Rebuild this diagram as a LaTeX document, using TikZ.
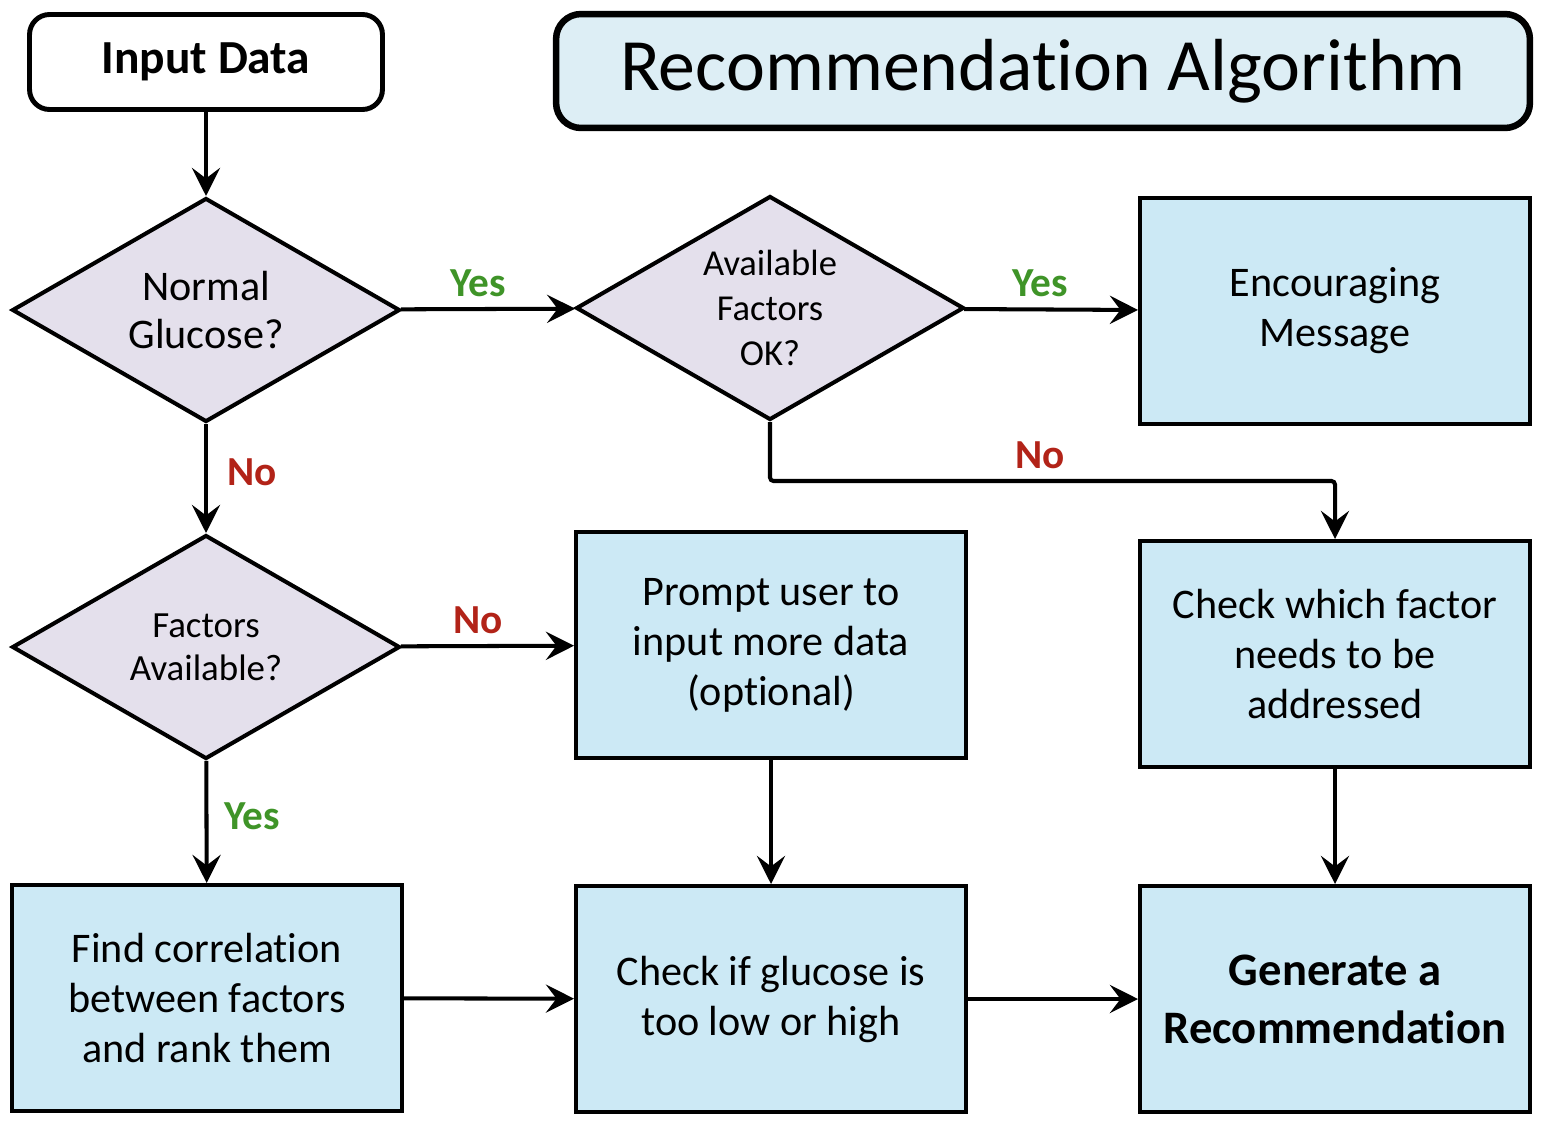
\documentclass[tikz,border=0pt]{standalone}
\usepackage{fontspec}
\setmainfont{Carlito}[Ligatures=NoCommon]
\usetikzlibrary{shapes.geometric, arrows.meta, calc}

\definecolor{boxblue}{HTML}{CCE9F5}
\definecolor{titleblue}{HTML}{DDEEF5}
\definecolor{decpurple}{HTML}{E4E0EC}
\definecolor{yesgreen}{HTML}{3F9428}
\definecolor{nored}{HTML}{B22318}

\tikzset{
	process/.style={draw, line width=2.3pt, fill=boxblue, minimum width=7.8cm, minimum height=4.52cm, align=center, inner sep=0pt, font=\fontsize{24}{28.5}\selectfont},
	decision/.style={draw, line width=2.3pt, fill=decpurple, diamond, aspect=1.73, minimum width=7.76cm, minimum height=4.48cm, align=center, inner sep=0pt},
	yeslbl/.style={text=yesgreen, font=\fontsize{23.5}{28}\selectfont\bfseries},
	nolbl/.style={text=nored, font=\fontsize{23.5}{28}\selectfont\bfseries},
	flow/.style={line width=2.3pt, -{Stealth[length=16pt, width=16pt, inset=6pt]}}
}

\begin{document}
\begin{tikzpicture}[x=0.02cm, y=-0.02cm]
		\useasboundingbox (0,0) rectangle (1550,1130);
		
		\node[draw, line width=2.8pt, rounded corners=0.4cm, minimum width=7.06cm, minimum height=1.9cm, font=\fontsize{27}{32}\selectfont\bfseries] (input) at (206,62) {Input Data};
		\node[draw, line width=3.7pt, fill=titleblue, rounded corners=0.5cm, minimum width=19.48cm, minimum height=2.28cm, font=\fontsize{42}{48}\selectfont] (title) at (1043,71) {Recommendation Algorithm};
		
		\node[decision, font=\fontsize{24}{27.5}\selectfont] (glucose) at (206,310) {Normal\\Glucose?};
		\node[decision, font=\fontsize{20.8}{25.5}\selectfont] (factorsok) at (770,308) {Available\\Factors\\OK?};
		\node[process] (encourage) at (1335,311) {Encouraging\\Message};
		
		\node[decision, font=\fontsize{21}{24.5}\selectfont] (available) at (206,647) {Factors\\Available?};
		\node[process] (prompt) at (771,645) {Prompt user to\\input more data\\(optional)};
		\node[process] (checkwhich) at (1335,654) {Check which factor\\needs to be\\addressed};
		
		\node[process] (correlate) at (207,998) {Find correlation\\between factors\\and rank them};
		\node[process] (checkif) at (771,999) {Check if glucose is\\too low or high};
		\node[process, font=\fontsize{26.5}{33}\selectfont\bfseries] (generate) at (1335,999) {Generate a\\Recommendation};
		
		\coordinate (bend) at (1335,481);
		
		\draw[flow] (input) edge (glucose)
		(glucose) edge (factorsok)
		(factorsok) edge (encourage)
		(glucose) edge (available)
		(available) edge (prompt)
		(available) edge (correlate)
		(prompt) edge (checkif)
		(checkwhich) edge (generate)
		(correlate) edge (checkif)
		(checkif) edge (generate)
		;
		\draw[flow, rounded corners=2pt] (factorsok.south) |- (bend) -- (checkwhich.north);
		
		\node[yeslbl] (yes1) at (478,283) {Yes};
		\node[yeslbl] (yes2) at (1040,283) {Yes};
		\node[nolbl] (no1) at (1040,455) {No};
		\node[nolbl] (no2) at (252,472) {No};
		\node[nolbl] (no3) at (478,620) {No};
		\node[yeslbl] (yes3) at (252,816) {Yes};
\end{tikzpicture}
\end{document}
